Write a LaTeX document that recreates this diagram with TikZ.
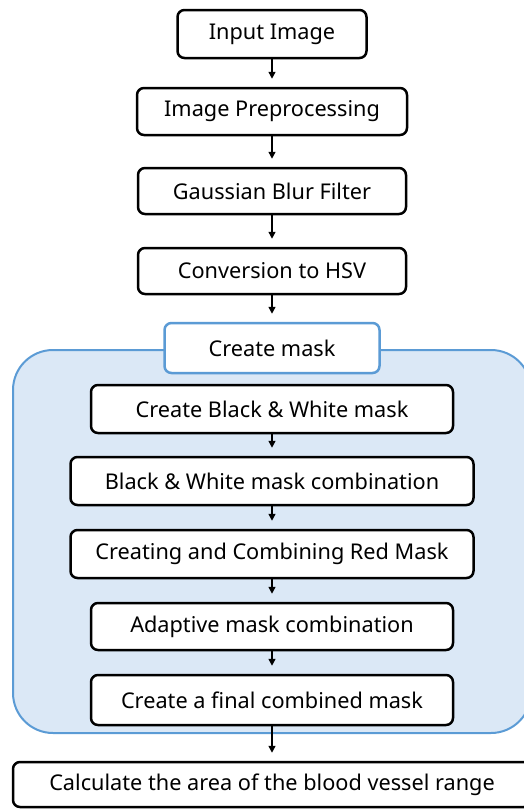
\documentclass[tikz,border=0pt]{standalone}
\usepackage{fontspec}
\setmainfont{Noto Sans}
\usetikzlibrary{arrows.meta}
\definecolor{regionfill}{RGB}{219,232,246}
\definecolor{regionline}{RGB}{91,155,213}
\begin{document}
\begin{tikzpicture}[x=1pt,y=-1pt,
  box/.style={draw=black,line width=2.5pt,rounded corners=7pt,fill=white,
    font=\fontsize{21.7}{25}\selectfont,inner sep=0pt,text=black},
  bluebox/.style={box,draw=regionline},
  region/.style={draw=regionline,fill=regionfill,line width=2pt,rounded corners=40pt,inner sep=0pt},
  arr/.style={line width=1.4pt,-{Triangle[length=7pt,width=7pt]},shorten >=8pt}]
\useasboundingbox (0,0) rectangle (524,809);
\clip (0,0) rectangle (524,809);
\node[region,minimum width=518pt,minimum height=383pt] (grp) at (272,541.5) {};
\node[box,minimum width=189pt,minimum height=48pt] (in) at (272,34) {Input Image};
\node[box,minimum width=270pt,minimum height=47pt] (pre) at (272,111.5) {Image Preprocessing};
\node[box,minimum width=268pt,minimum height=46pt] (gau) at (272,191) {Gaussian Blur Filter};
\node[box,minimum width=268pt,minimum height=46pt] (hsv) at (272,271) {Conversion to HSV};
\node[bluebox,minimum width=215pt,minimum height=50pt] (cm) at (272,348) {Create mask};
\node[box,minimum width=362pt,minimum height=48pt] (bw) at (272,409) {Create Black \& White mask};
\node[box,minimum width=403pt,minimum height=48pt] (bwc) at (272,481) {Black \& White mask combination};
\node[box,minimum width=403pt,minimum height=48pt] (red) at (272,554) {Creating and Combining Red Mask};
\node[box,minimum width=362pt,minimum height=47pt] (ada) at (272,626.5) {Adaptive mask combination};
\node[box,minimum width=362pt,minimum height=50pt] (fin) at (272,700) {Create a final combined mask};
\node[box,minimum width=518pt,minimum height=45pt] (calc) at (272,784.5) {Calculate the area of the blood vessel range};
\draw[arr] (in) -- (pre);
\draw[arr] (pre) -- (gau);
\draw[arr] (gau) -- (hsv);
\draw[arr] (hsv) -- (cm);
\draw[arr] (bw) -- (bwc);
\draw[arr] (bwc) -- (red);
\draw[arr] (red) -- (ada);
\draw[arr] (ada) -- (fin);
\draw[arr] (fin) -- (calc);
\end{tikzpicture}
\end{document}
